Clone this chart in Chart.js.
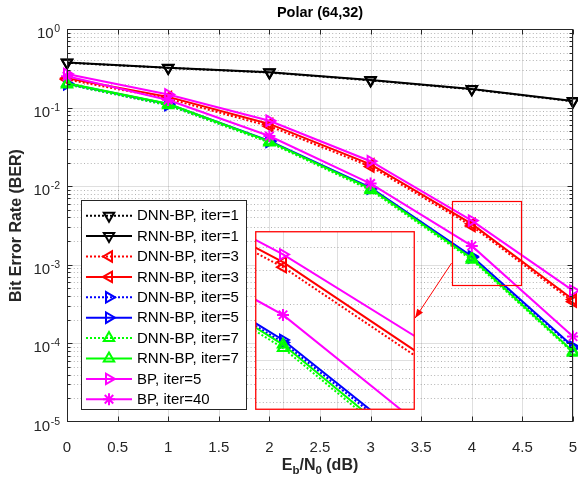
<!DOCTYPE html>
<html><head><meta charset="utf-8">
<script src="https://cdn.jsdelivr.net/npm/chart.js@4.4.1/dist/chart.umd.min.js"></script>
<style>
html,body{margin:0;padding:0;background:#fff;}
#wrap{position:relative;width:578px;height:481px;overflow:hidden;}
#main{position:absolute;left:0;top:0;}
#inset{position:absolute;left:255px;top:231px;background:#fff;}
</style></head><body>
<div id="wrap"><canvas id="main" width="578" height="481"></canvas><canvas id="inset" width="160" height="179"></canvas></div>
<script>
// ---------- data ----------
const snr = [0, 1, 2, 3, 4, 5];
const dnnIter1 = [0.372, 0.320, 0.279, 0.222, 0.171, 0.120];
const rnnIter1 = [0.375, 0.322, 0.281, 0.224, 0.172, 0.121];
const dnnIter3 = [0.228, 0.130, 0.058, 0.0178, 0.00312, 0.000340];
const rnnIter3 = [0.237, 0.137, 0.062, 0.0190, 0.00332, 0.000362];
const dnnIter5 = [0.198, 0.108, 0.0368, 0.0093, 0.00124, 0.0000880];
const rnnIter5 = [0.202, 0.111, 0.0378, 0.0096, 0.00128, 0.0000910];
const dnnIter7 = [0.197, 0.107, 0.0360, 0.0089, 0.00116, 0.0000760];
const rnnIter7 = [0.204, 0.112, 0.0372, 0.0093, 0.00121, 0.0000790];
const bpIter5  = [0.268, 0.147, 0.068, 0.0208, 0.00365, 0.000470];
const bpIter40 = [0.250, 0.125, 0.0435, 0.0108, 0.00174, 0.000122];
const seriesLabels = ['DNN-BP, iter=1','RNN-BP, iter=1','DNN-BP, iter=3','RNN-BP, iter=3','DNN-BP, iter=5','RNN-BP, iter=5','DNN-BP, iter=7','RNN-BP, iter=7','BP, iter=5','BP, iter=40'];
const xTickValues = [0, 0.5, 1, 1.5, 2, 2.5, 3, 3.5, 4, 4.5, 5];
const yTickExponents = [0, -1, -2, -3, -4, -5];
const insetXTicks = [4.0, 4.2, 4.4];
const zoomBoxX = [3.8, 4.48];
const zoomBoxY = [5.5e-4, 6.5e-3];
const insetX = [3.9, 4.485];
const insetY = [5.5e-4, 4.8e-3];
const arrowFrom = [3.8, 1.05e-3];
const arrowTo = [3.44, 2.1e-4];
const titleText = 'Polar (64,32)';
const yTitleText = 'Bit Error Rate (BER)';

// ---------- styles ----------
const seriesValues = [dnnIter1, rnnIter1, dnnIter3, rnnIter3, dnnIter5, rnnIter5, dnnIter7, rnnIter7, bpIter5, bpIter40];
const seriesStyle = [
  {c:'#000000', dash:[2,2], m:'triangle', r:180},
  {c:'#000000', dash:[],    m:'triangle', r:180},
  {c:'#ff0000', dash:[2,2], m:'triangle', r:270},
  {c:'#ff0000', dash:[],    m:'triangle', r:270},
  {c:'#0000ff', dash:[2,2], m:'triangle', r:90},
  {c:'#0000ff', dash:[],    m:'triangle', r:90},
  {c:'#00ff00', dash:[2,2], m:'triangle', r:0},
  {c:'#00ff00', dash:[],    m:'triangle', r:0},
  {c:'#ff00ff', dash:[],    m:'triangle', r:90},
  {c:'#ff00ff', dash:[],    m:'star',     r:0}
];
const FONT = '"Liberation Sans", Arial, Helvetica, sans-serif';
const AX = '#262626';

function makeDatasets(clip){
  return seriesValues.map((vals, i) => {
    const s = seriesStyle[i];
    return {
      label: seriesLabels[i],
      data: snr.map((x, j) => ({x: x, y: vals[j]})),
      borderColor: s.c, backgroundColor: s.c,
      borderWidth: 2, borderDash: s.dash,
      pointStyle: s.m, pointRotation: s.r,
      pointRadius: 6, pointHoverRadius: 6,
      pointBorderWidth: 2, pointBorderColor: s.c,
      pointBackgroundColor: 'rgba(0,0,0,0)',
      tension: 0, clip: clip,
      order: seriesValues.length - i
    };
  });
}

function drawMarker(ctx, style, rot, x, y, r){
  if (Chart.helpers && Chart.helpers.drawPoint){
    Chart.helpers.drawPoint(ctx, {pointStyle: style, rotation: rot, radius: r, borderWidth: 2}, x, y);
    return;
  }
  ctx.beginPath();
  let rad = rot * Math.PI / 180;
  if (style === 'triangle'){
    for (let k = 0; k < 3; k++){
      const px = x + Math.sin(rad) * r, py = y - Math.cos(rad) * r;
      if (k === 0) ctx.moveTo(px, py); else ctx.lineTo(px, py);
      rad += 2 * Math.PI / 3;
    }
    ctx.closePath();
  } else {
    for (let k = 0; k < 4; k++){
      const a = rad + k * Math.PI / 4;
      ctx.moveTo(x - Math.cos(a) * r, y - Math.sin(a) * r);
      ctx.lineTo(x + Math.cos(a) * r, y + Math.sin(a) * r);
    }
  }
  ctx.stroke();
}

function minorValues(lo, hi){
  const out = [];
  for (let e = Math.floor(Math.log10(lo)) ; e <= Math.ceil(Math.log10(hi)); e++){
    for (let m = 1; m <= 9; m++){
      const v = m * Math.pow(10, e);
      if (v > lo * 1.0001 && v < hi * 0.9999) out.push({v: v, major: m === 1});
    }
  }
  return out;
}

// ---------- main chart plugin ----------
const mainPlugin = {
  id: 'matlabLook',
  beforeDatasetsDraw(chart){
    const ctx = chart.ctx, a = chart.chartArea;
    const xs = chart.scales.x, ys = chart.scales.y;
    ctx.save();
    ctx.lineWidth = 1;
    ctx.strokeStyle = 'rgba(38,38,38,0.15)';
    xTickValues.forEach(v => {
      const px = Math.round(xs.getPixelForValue(v)) + 0.5;
      ctx.beginPath(); ctx.moveTo(px, a.top); ctx.lineTo(px, a.bottom); ctx.stroke();
    });
    minorValues(1e-5, 1).forEach(t => {
      const py = Math.round(ys.getPixelForValue(t.v)) + 0.5;
      if (t.major){ ctx.setLineDash([]); ctx.strokeStyle = 'rgba(38,38,38,0.15)'; }
      else { ctx.setLineDash([1, 2.4]); ctx.strokeStyle = 'rgba(38,38,38,0.35)'; }
      ctx.beginPath(); ctx.moveTo(a.left, py); ctx.lineTo(a.right, py); ctx.stroke();
    });
    ctx.restore();
  },
  afterDatasetsDraw(chart){
    const ctx = chart.ctx, a = chart.chartArea;
    const xs = chart.scales.x, ys = chart.scales.y;
    ctx.save();
    const L = Math.round(a.left) + 0.5, R = Math.round(a.right) - 0.5;
    const T = Math.round(a.top) + 0.5, B = Math.round(a.bottom) - 0.5;
    ctx.strokeStyle = AX; ctx.lineWidth = 1; ctx.setLineDash([]);
    ctx.strokeRect(L, T, R - L, B - T);
    xTickValues.forEach(v => {
      const px = Math.round(xs.getPixelForValue(v)) + 0.5;
      ctx.beginPath();
      ctx.moveTo(px, B); ctx.lineTo(px, B - 5);
      ctx.moveTo(px, T); ctx.lineTo(px, T + 5);
      ctx.stroke();
    });
    minorValues(1e-5, 1).forEach(t => {
      const py = Math.round(ys.getPixelForValue(t.v)) + 0.5;
      const len = t.major ? 5 : 3;
      ctx.beginPath();
      ctx.moveTo(L, py); ctx.lineTo(L + len, py);
      ctx.moveTo(R, py); ctx.lineTo(R - len, py);
      ctx.stroke();
    });
    ctx.fillStyle = AX;
    ctx.textBaseline = 'alphabetic';
    yTickExponents.forEach(e => {
      const py = ys.getPixelForValue(Math.pow(10, e));
      const sup = String(e);
      ctx.font = '10.5px ' + FONT;
      const sw = ctx.measureText(sup).width;
      ctx.font = '15px ' + FONT;
      const tw = ctx.measureText('10').width;
      const right = a.left - 7;
      ctx.textAlign = 'left';
      ctx.fillText('10', right - sw - tw - 0.5, py + 9);
      ctx.font = '10.5px ' + FONT;
      ctx.fillText(sup, right - sw, py + 3);
    });
    ctx.fillStyle = '#000';
    ctx.font = 'bold 14.5px ' + FONT;
    ctx.textAlign = 'center';
    ctx.fillText(titleText, (a.left + a.right) / 2, 17);
    ctx.fillStyle = AX;
    ctx.save();
    ctx.translate(17, (a.top + a.bottom) / 2);
    ctx.rotate(-Math.PI / 2);
    ctx.font = 'bold 16px ' + FONT;
    ctx.textBaseline = 'middle';
    ctx.fillText(yTitleText, 0, 0);
    ctx.restore();
    const parts = [
      {t:'E', sub:false}, {t:'b', sub:true}, {t:'/N', sub:false}, {t:'0', sub:true}, {t:' (dB)', sub:false}
    ];
    const big = 'bold 16px ' + FONT, small = 'bold 11.5px ' + FONT;
    let total = 0;
    parts.forEach(p => { ctx.font = p.sub ? small : big; p.w = ctx.measureText(p.t).width; total += p.w; });
    let cx = (a.left + a.right) / 2 - total / 2;
    ctx.textAlign = 'left'; ctx.textBaseline = 'alphabetic';
    parts.forEach(p => {
      ctx.font = p.sub ? small : big;
      ctx.fillText(p.t, cx, p.sub ? 474 : 470);
      cx += p.w;
    });
    ctx.strokeStyle = '#ff0000'; ctx.lineWidth = 1.2;
    const bx0 = xs.getPixelForValue(zoomBoxX[0]), bx1 = xs.getPixelForValue(zoomBoxX[1]);
    const by0 = ys.getPixelForValue(zoomBoxY[1]), by1 = ys.getPixelForValue(zoomBoxY[0]);
    ctx.strokeRect(Math.round(bx0) + 0.5, Math.round(by0) + 0.5, Math.round(bx1 - bx0), Math.round(by1 - by0));
    const ax0 = xs.getPixelForValue(arrowFrom[0]), ay0 = ys.getPixelForValue(arrowFrom[1]);
    const ax1 = xs.getPixelForValue(arrowTo[0]), ay1 = ys.getPixelForValue(arrowTo[1]);
    ctx.lineWidth = 1;
    ctx.beginPath(); ctx.moveTo(ax0, ay0); ctx.lineTo(ax1, ay1); ctx.stroke();
    const ang = Math.atan2(ay1 - ay0, ax1 - ax0);
    ctx.fillStyle = '#ff0000';
    ctx.beginPath();
    ctx.moveTo(ax1, ay1);
    ctx.lineTo(ax1 - 9 * Math.cos(ang) + 3.5 * Math.sin(ang), ay1 - 9 * Math.sin(ang) - 3.5 * Math.cos(ang));
    ctx.lineTo(ax1 - 9 * Math.cos(ang) - 3.5 * Math.sin(ang), ay1 - 9 * Math.sin(ang) + 3.5 * Math.cos(ang));
    ctx.closePath(); ctx.fill();
    const lgL = 81.5, lgT = 200.5, lgW = 165, lgH = 209;
    ctx.fillStyle = '#fff';
    ctx.fillRect(lgL, lgT, lgW, lgH);
    ctx.strokeStyle = AX; ctx.lineWidth = 1;
    ctx.strokeRect(lgL, lgT, lgW, lgH);
    ctx.font = '15px ' + FONT;
    ctx.textBaseline = 'middle'; ctx.textAlign = 'left';
    seriesLabels.forEach((lab, i) => {
      const s = seriesStyle[i];
      const yy = 215.7 + i * 20.4;
      ctx.strokeStyle = s.c; ctx.lineWidth = 2;
      ctx.setLineDash(s.dash);
      ctx.beginPath(); ctx.moveTo(86, yy); ctx.lineTo(132, yy); ctx.stroke();
      ctx.setLineDash([]);
      ctx.fillStyle = 'rgba(0,0,0,0)';
      drawMarker(ctx, s.m, s.r, 109, yy, 6);
      ctx.fillStyle = '#000';
      ctx.fillText(lab, 137, yy + 0.5);
    });
    ctx.restore();
  }
};

new Chart(document.getElementById('main'), {
  type: 'line',
  data: { datasets: makeDatasets(false) },
  options: {
    responsive: false, animation: false, devicePixelRatio: 1,
    layout: { autoPadding: false, padding: { left: 0, right: 5, top: 29, bottom: 0 } },
    plugins: { legend: { display: false }, tooltip: { enabled: false }, title: { display: false } },
    scales: {
      x: {
        type: 'linear', min: 0, max: 5,
        afterFit: s => { s.height = 59; s.paddingLeft = 0; s.paddingRight = 0; },
        afterBuildTicks: s => { s.ticks = xTickValues.map(v => ({value: v})); },
        grid: { display: false }, border: { display: false },
        ticks: { color: AX, font: { size: 15, family: FONT }, padding: 9, maxRotation: 0, autoSkip: false,
                 callback: v => String(v) }
      },
      y: {
        type: 'logarithmic', min: 1e-5, max: 1,
        afterFit: s => { s.width = 67; s.paddingTop = 0; s.paddingBottom = 0; },
        grid: { display: false }, border: { display: false },
        ticks: { display: false }
      }
    }
  },
  plugins: [mainPlugin]
});

// ---------- inset ----------
const insetPlugin = {
  id: 'insetLook',
  beforeDatasetsDraw(chart){
    const ctx = chart.ctx, a = chart.chartArea;
    const xs = chart.scales.x, ys = chart.scales.y;
    ctx.save();
    ctx.fillStyle = '#fff'; ctx.fillRect(0, 0, chart.width, chart.height);
    ctx.lineWidth = 1;
    ctx.strokeStyle = 'rgba(38,38,38,0.15)';
    insetXTicks.forEach(v => {
      const px = Math.round(xs.getPixelForValue(v)) + 0.5;
      ctx.beginPath(); ctx.moveTo(px, a.top); ctx.lineTo(px, a.bottom); ctx.stroke();
    });
    minorValues(insetY[0], insetY[1]).forEach(t => {
      const py = Math.round(ys.getPixelForValue(t.v)) + 0.5;
      if (t.major){ ctx.setLineDash([]); ctx.strokeStyle = 'rgba(38,38,38,0.15)'; }
      else { ctx.setLineDash([1, 2.4]); ctx.strokeStyle = 'rgba(38,38,38,0.35)'; }
      ctx.beginPath(); ctx.moveTo(a.left, py); ctx.lineTo(a.right, py); ctx.stroke();
    });
    ctx.restore();
  },
  afterDraw(chart){
    const ctx = chart.ctx;
    ctx.save();
    ctx.strokeStyle = '#ff0000'; ctx.lineWidth = 1.3;
    ctx.strokeRect(0.75, 0.75, chart.width - 1.5, chart.height - 1.5);
    ctx.restore();
  }
};

new Chart(document.getElementById('inset'), {
  type: 'line',
  data: { datasets: makeDatasets(0) },
  options: {
    responsive: false, animation: false, devicePixelRatio: 1,
    layout: { autoPadding: false, padding: 1 },
    plugins: { legend: { display: false }, tooltip: { enabled: false } },
    scales: {
      x: { type: 'linear', min: insetX[0], max: insetX[1], display: false },
      y: { type: 'logarithmic', min: insetY[0], max: insetY[1], display: false }
    }
  },
  plugins: [insetPlugin]
});
</script>
</body></html>
